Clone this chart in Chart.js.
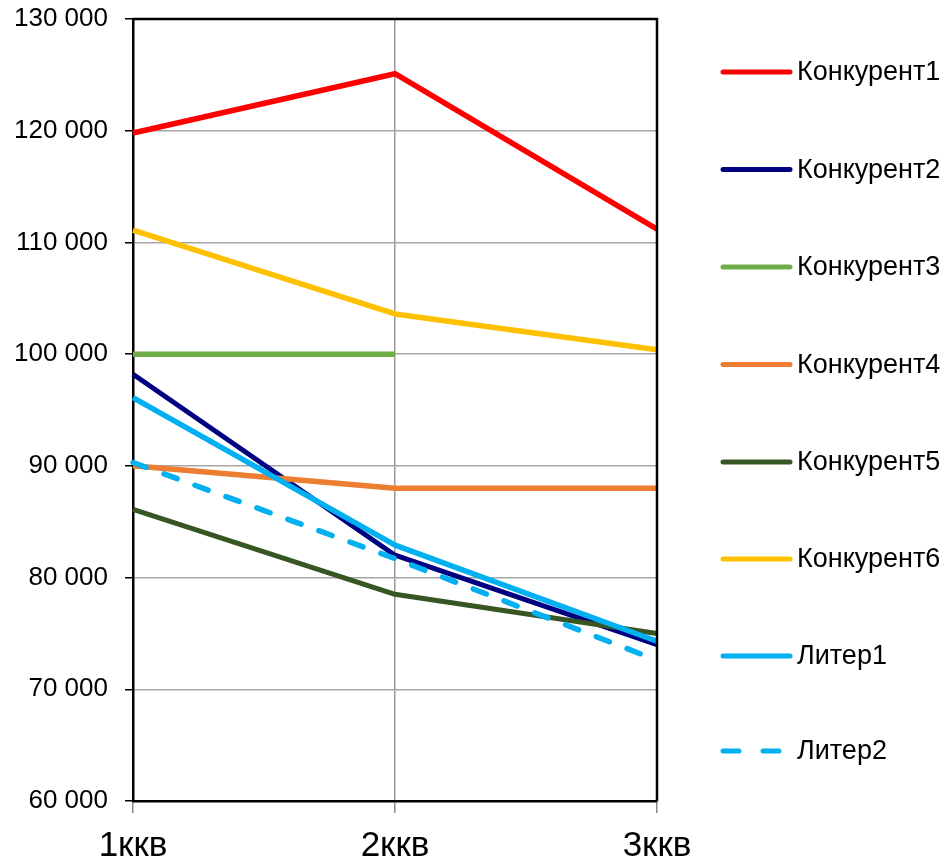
<!DOCTYPE html>
<html>
<head>
<meta charset="utf-8">
<script src="https://cdn.jsdelivr.net/npm/chart.js@4"></script>
<style>
html,body{margin:0;padding:0;background:#fff;}
#wrap{width:950px;height:866px;position:relative;}
</style>
</head>
<body>
<div id="wrap"><canvas id="c" width="950" height="866"></canvas></div>
<script>
const categories = ['1ккв', '2ккв', '3ккв'];
const seriesNames = ['Конкурент1', 'Конкурент2', 'Конкурент3', 'Конкурент4', 'Конкурент5', 'Конкурент6', 'Литер1', 'Литер2'];
const konkurent1 = [119800, 125100, 111200];
const konkurent2 = [98200, 82000, 74000];
const konkurent3 = [100000, 100000, null];
const konkurent4 = [90000, 88000, 88000];
const konkurent5 = [86100, 78500, 75000];
const konkurent6 = [111100, 103600, 100400];
const liter1 = [96100, 82900, 74300];
const liter2 = [90300, 81700, 72600];
const yTicks = [60000, 70000, 80000, 90000, 100000, 110000, 120000, 130000];

const seriesValues = [konkurent1, konkurent2, konkurent3, konkurent4, konkurent5, konkurent6, liter1, liter2];
const colors = ['#FF0000', '#000080', '#70AD47', '#ED7D31', '#375623', '#FFC000', '#00B0F0', '#00B0F0'];
const widths = [5.5, 5, 5.5, 5.5, 5, 5.5, 5.5, 5.5];
const dashes = [[], [], [], [], [], [], [], [14, 19]];

const datasets = seriesNames.map((n, i) => ({
  label: n,
  data: seriesValues[i],
  borderColor: colors[i],
  backgroundColor: colors[i],
  borderWidth: widths[i],
  borderDash: dashes[i],
  borderCapStyle: i === 7 ? 'round' : 'butt',
  borderJoinStyle: 'round',
  pointRadius: 0,
  pointHoverRadius: 0,
  fill: false,
  tension: 0,
  spanGaps: false,
  order: seriesNames.length - i
}));

const fmt = v => String(v).replace(/\B(?=(\d{3})+(?!\d))/g, ' ');

const frameAndLegend = {
  id: 'frameAndLegend',
  afterDatasetsDraw(chart) {
    const ctx = chart.ctx, a = chart.chartArea;
    ctx.save();
    ctx.strokeStyle = '#000';
    ctx.lineWidth = 2.5;
    ctx.beginPath();
    ctx.moveTo(a.left, a.top);
    ctx.lineTo(a.right, a.top);
    ctx.lineTo(a.right, a.bottom);
    ctx.stroke();
    ctx.restore();
  },
  afterDraw(chart) {
    const ctx = chart.ctx;
    const ys = [72, 169.5, 267, 364.5, 462, 559, 656, 751];
    ctx.save();
    chart.data.datasets.forEach((ds, i) => {
      const y = ys[i];
      ctx.strokeStyle = ds.borderColor;
      ctx.lineWidth = 5;
      ctx.lineCap = 'round';
      ctx.setLineDash(ds.borderDash.length ? [16, 24] : []);
      ctx.beginPath();
      ctx.moveTo(723, y);
      ctx.lineTo(ds.borderDash.length ? 784 : 790, y);
      ctx.stroke();
      ctx.setLineDash([]);
      ctx.fillStyle = '#000';
      ctx.font = '27px "Liberation Sans", Arial, sans-serif';
      ctx.textAlign = 'left';
      ctx.textBaseline = 'middle';
      ctx.fillText(ds.label, 797, y + 1);
    });
    ctx.restore();
  }
};

new Chart(document.getElementById('c'), {
  type: 'line',
  data: { labels: categories, datasets },
  options: {
    responsive: false,
    animation: false,
    devicePixelRatio: 1,
    layout: { padding: { top: 19, right: 293, bottom: 0, left: 0 } },
    plugins: { legend: { display: false }, tooltip: { enabled: false } },
    scales: {
      x: {
        type: 'category',
        offset: false,
        afterFit(s) { s.height = 65; s.paddingLeft = 0; s.paddingRight = 0; },
        border: { display: true, color: '#000', width: 2.5 },
        grid: {
          display: true,
          drawOnChartArea: true,
          drawTicks: true,
          tickLength: 12,
          lineWidth: 1.5,
          color: ctx => ctx.index === 1 ? '#999999' : 'rgba(0,0,0,0)',
          tickColor: '#888888',
          tickWidth: 1.5
        },
        ticks: {
          color: '#000',
          padding: 12,
          maxRotation: 0,
          autoSkip: false,
          font: { family: '"Liberation Sans", Arial, sans-serif', size: 35 }
        }
      },
      y: {
        min: 60000,
        max: 130000,
        afterFit(s) { s.width = 133; s.paddingTop = 0; s.paddingBottom = 0; },
        afterBuildTicks(s) { s.ticks = yTicks.map(v => ({ value: v })); },
        border: { display: true, color: '#000', width: 2.5 },
        grid: {
          display: true,
          drawTicks: true,
          tickLength: 8,
          lineWidth: 1.5,
          color: '#a6a6a6',
          tickColor: '#000',
          tickWidth: 1.5
        },
        ticks: {
          color: '#000',
          padding: 17,
          callback: v => fmt(v),
          font: { family: '"Liberation Sans", Arial, sans-serif', size: 26 }
        }
      }
    }
  },
  plugins: [frameAndLegend]
});
</script>
</body>
</html>
